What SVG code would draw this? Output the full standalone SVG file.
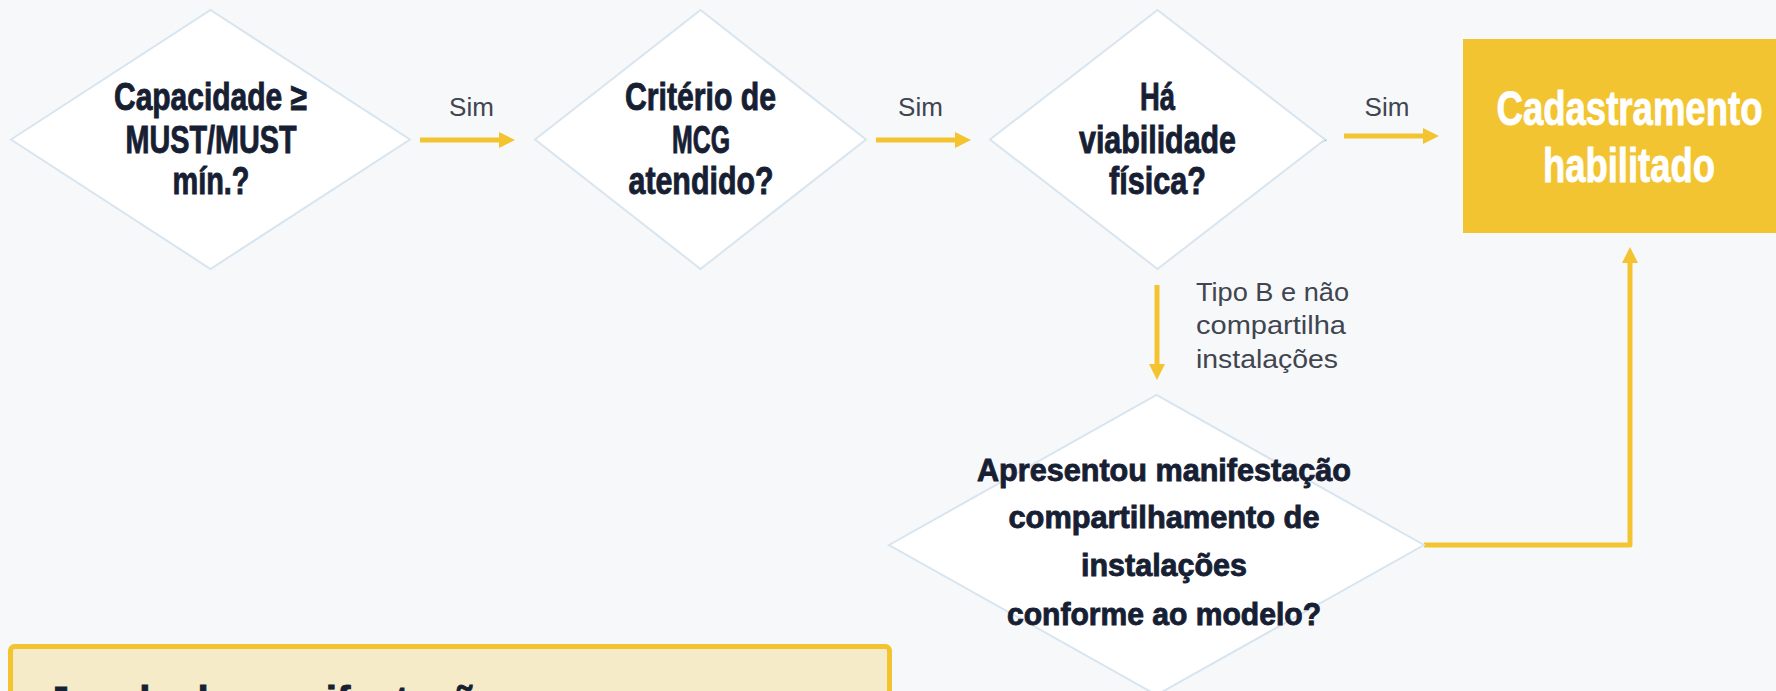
<svg xmlns="http://www.w3.org/2000/svg" width="1776" height="691" viewBox="0 0 1776 691">
  <defs>
    <style>
      .bg { fill: #f7f8fa; }
      .dia { fill: #ffffff; stroke: #d8e5ef; stroke-width: 2; }
      .q { font-family: "Liberation Sans", Arial, sans-serif; font-weight: 700; fill: #172033; stroke: #172033; stroke-width: 0.9; text-anchor: middle; }
      .q38 { font-size: 38px; }
      .q32 { font-size: 32px; }
      .lbl { font-family: "Liberation Sans", Arial, sans-serif; font-size: 26px; fill: #40454f; }
      .edge { fill: none; stroke: #f4c430; stroke-width: 5; stroke-linejoin: round; }
      .end { fill: #f3c431; }
      .endtxt { font-family: "Liberation Sans", Arial, sans-serif; font-weight: 700; font-size: 49px; fill: #ffffff; stroke: #ffffff; stroke-width: 0.9; text-anchor: middle; }
      .note { fill: #f5ebc8; stroke: #f4c430; stroke-width: 5; }
      .notetxt { font-family: "Liberation Sans", Arial, sans-serif; font-weight: 700; font-size: 40px; fill: #172033; stroke: #172033; stroke-width: 0.9; }
    </style>
    <marker id="ah" markerUnits="userSpaceOnUse" viewBox="0 0 16 16" markerWidth="16" markerHeight="16" refX="1" refY="8" orient="auto">
      <path d="M0,0 L16,8 L0,16 Z" fill="#f4c430"/>
    </marker>
  </defs>

  <rect class="bg" x="0" y="0" width="1776" height="691"/>

  <g id="connectors">
    <line class="edge" x1="420" y1="140" x2="500" y2="140" marker-end="url(#ah)"/>
    <line class="edge" x1="876" y1="140" x2="956" y2="140" marker-end="url(#ah)"/>
    <line class="edge" x1="1344" y1="136" x2="1424" y2="136" marker-end="url(#ah)"/>
    <line class="edge" x1="1157" y1="285" x2="1157" y2="365" marker-end="url(#ah)"/>
    <polyline class="edge" points="1424,545 1630,545 1630,262" marker-end="url(#ah)"/>
    <path d="M1319,135 L1327,140 L1319,144 L1322.5,140 Z" fill="#18a5a5"/>
    <text class="lbl" x="471.5" y="116" text-anchor="middle">Sim</text>
    <text class="lbl" x="920.5" y="116" text-anchor="middle">Sim</text>
    <text class="lbl" x="1387" y="116" text-anchor="middle">Sim</text>
    <text class="lbl" x="1196" y="300.5" textLength="153" lengthAdjust="spacingAndGlyphs">Tipo B e não</text>
    <text class="lbl" x="1196" y="334" textLength="150" lengthAdjust="spacingAndGlyphs">compartilha</text>
    <text class="lbl" x="1196" y="367.5" textLength="142" lengthAdjust="spacingAndGlyphs">instalações</text>
  </g>

  <g id="node-capacidade">
    <polygon class="dia" points="11,139.5 210.5,10 410,139.5 210.5,269"/>
    <text class="q q38" x="210.5" y="110" textLength="193" lengthAdjust="spacingAndGlyphs">Capacidade ≥</text>
    <text class="q q38" x="211" y="153" textLength="171" lengthAdjust="spacingAndGlyphs">MUST/MUST</text>
    <text class="q q38" x="211" y="194" textLength="77" lengthAdjust="spacingAndGlyphs">mín.?</text>
  </g>

  <g id="node-mcg">
    <polygon class="dia" points="535,139.5 700.5,10 866,139.5 700.5,269"/>
    <text class="q q38" x="700.5" y="110" textLength="151" lengthAdjust="spacingAndGlyphs">Critério de</text>
    <text class="q q38" x="701" y="153" textLength="58" lengthAdjust="spacingAndGlyphs">MCG</text>
    <text class="q q38" x="701" y="194" textLength="145" lengthAdjust="spacingAndGlyphs">atendido?</text>
  </g>

  <g id="node-viabilidade">
    <polygon class="dia" points="990,139.5 1157.5,10 1325,139.5 1157.5,269"/>
    <text class="q q38" x="1157.5" y="110" textLength="35" lengthAdjust="spacingAndGlyphs">Há</text>
    <text class="q q38" x="1157.5" y="153" textLength="157" lengthAdjust="spacingAndGlyphs">viabilidade</text>
    <text class="q q38" x="1157.5" y="194" textLength="97" lengthAdjust="spacingAndGlyphs">física?</text>
  </g>

  <g id="node-cadastramento">
    <rect class="end" x="1463" y="39" width="333" height="194"/>
    <text class="endtxt" x="1629.5" y="125" textLength="266" lengthAdjust="spacingAndGlyphs">Cadastramento</text>
    <text class="endtxt" x="1629" y="181.5" textLength="172" lengthAdjust="spacingAndGlyphs">habilitado</text>
  </g>

  <g id="node-manifestacao">
    <polygon class="dia" points="889,545 1156.5,395 1424,545 1156.5,695"/>
    <text class="q q32" x="1164" y="480.5" textLength="374" lengthAdjust="spacingAndGlyphs">Apresentou manifestação</text>
    <text class="q q32" x="1164" y="528" textLength="311" lengthAdjust="spacingAndGlyphs">compartilhamento de</text>
    <text class="q q32" x="1164" y="576" textLength="166" lengthAdjust="spacingAndGlyphs">instalações</text>
    <text class="q q32" x="1164" y="625" textLength="314" lengthAdjust="spacingAndGlyphs">conforme ao modelo?</text>
  </g>

  <g id="node-nota">
    <rect class="note" x="10.5" y="646.5" width="879" height="120" rx="4"/>
    <text class="notetxt" x="47" y="715" textLength="454" lengthAdjust="spacingAndGlyphs">Janela de manifestação</text>
  </g>
</svg>
